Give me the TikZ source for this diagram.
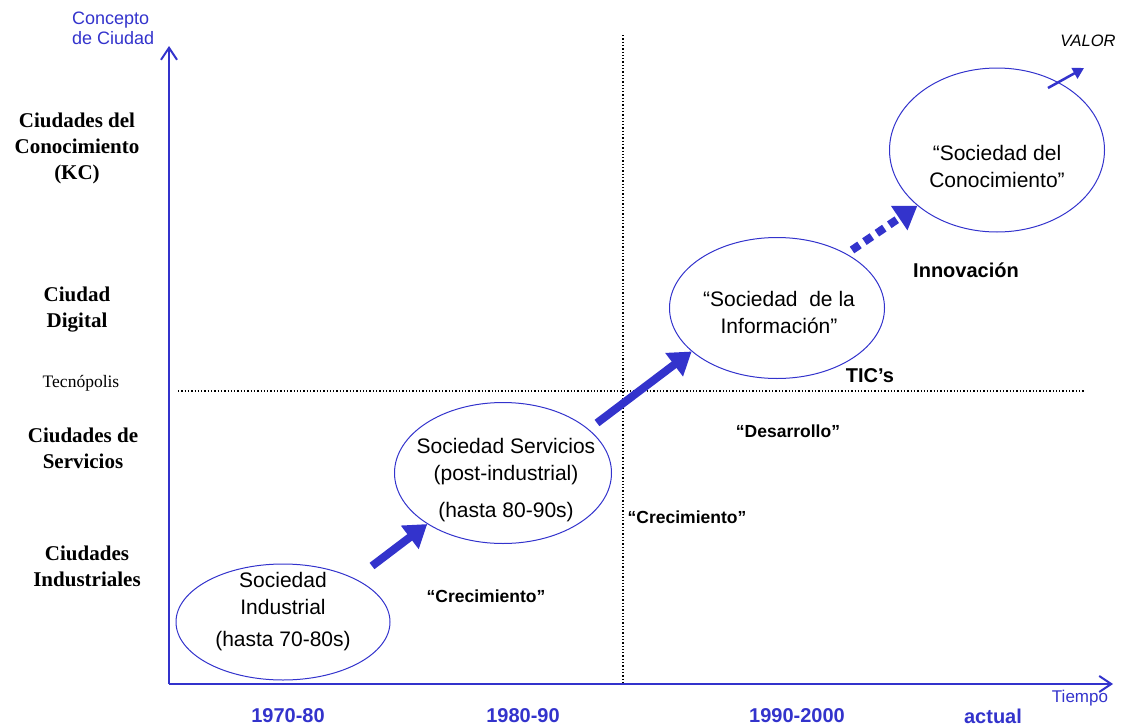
\documentclass[tikz,border=0pt]{standalone}
\usepackage{fontspec}
\setmainfont{Liberation Sans}
\newfontfamily\tnr{Liberation Serif}
\usetikzlibrary{shapes.geometric,arrows.meta}
\definecolor{ablue}{RGB}{51,51,204}
\tikzset{
  soc/.style={ellipse,draw=ablue,line width=1pt,inner sep=0pt},
  etext/.style={font=\fontsize{21}{27}\selectfont,align=center,inner sep=0pt},
  city/.style={font=\tnr\bfseries\fontsize{21}{26}\selectfont,align=center,inner sep=0pt},
  yearlbl/.style={font=\bfseries\fontsize{20}{24}\selectfont,text=ablue,inner sep=0pt},
  boldlbl/.style={font=\bfseries\fontsize{17.5}{21}\selectfont,inner sep=0pt},
  axis/.style={draw=ablue,line width=2.2pt,-{Straight Barb[length=12pt,width=16pt,line width=2pt]}},
  bigarrow/.style={draw=ablue,line width=8pt,-{Triangle[length=22pt,width=28pt]}},
  dotline/.style={draw=black,line width=1.3pt,dotted},
}
\begin{document}
\begin{tikzpicture}[x=1pt,y=-1pt]
\useasboundingbox (0,0) rectangle (1122,728);
% grid lines
\coordinate (vt) at (623,35);
\coordinate (vb) at (623,684);
\coordinate (hl) at (178,391);
\coordinate (hr) at (1085,391);
\draw[dotline] (vt) -- (vb);
\draw[dotline] (hl) -- (hr);
% axes
\coordinate (o) at (169,684);
\coordinate (ytop) at (169,46);
\coordinate (xend) at (1113,684);
\draw[axis] (o) -- (ytop);
\draw[axis] (o) -- (xend);
\node[anchor=west,align=left,text=ablue,font=\fontsize{18}{20}\selectfont,inner sep=0pt] (yl) at (72,28) {Concepto\\de Ciudad};
\node[text=ablue,font=\fontsize{17}{20}\selectfont,inner sep=0pt] (xl) at (1080,698) {Tiempo};
% ellipses
\node[soc,minimum width=214pt,minimum height=116pt] (e1) at (283,622) {};
\node[soc,minimum width=217pt,minimum height=141pt] (e2) at (503,473) {};
\node[soc,minimum width=215pt,minimum height=141pt] (e3) at (777,308) {};
\node[soc,minimum width=215pt,minimum height=164pt] (e4) at (997,150) {};
\node[etext] (t1) at (283,593) {Sociedad\\Industrial};
\node[etext] (t1b) at (283,641) {(hasta 70-80s)};
\node[etext] (t2) at (506,462) {Sociedad Servicios\\(post-industrial)};
\node[etext] (t2b) at (506,512) {(hasta 80-90s)};
\node[etext] (t3) at (779,312) {``Sociedad\ \ de la\\Informaci\'on''};
\node[etext] (t4) at (997,166) {``Sociedad del\\Conocimiento''};
% arrows
\coordinate (a1) at (372,566);
\coordinate (a2) at (597,423);
\coordinate (a3) at (852,250);
\draw[bigarrow] (a1) -- (e2.214);
\draw[bigarrow] (a2) -- (e3.207);
\draw[bigarrow,dash pattern=on 9pt off 6pt] (a3) -- (e4.215);
\coordinate (v1) at (1048,88);
\coordinate (v2) at (1084,68);
\draw[draw=ablue,line width=2.5pt,-{Triangle[length=11pt,width=12pt]}] (v1) -- (v2);
\node[font=\itshape\fontsize{16.5}{20}\selectfont,inner sep=0pt] (valor) at (1088,41) {VALOR};
% left labels
\node[city] (c1) at (77,148) {Ciudades del\\Conocimiento\\(KC)};
\node[city] (c2) at (77,310) {Ciudad\\Digital};
\node[font=\tnr\fontsize{17.5}{20}\selectfont,inner sep=0pt] (c3) at (81,383) {Tecn\'opolis};
\node[city] (c4) at (83,448) {Ciudades de\\Servicios};
\node[city] (c5) at (87,566) {Ciudades\\Industriales};
% bottom labels
\node[yearlbl] (y1) at (288,716) {1970-80};
\node[yearlbl] (y2) at (523,716) {1980-90};
\node[yearlbl] (y3) at (797,716) {1990-2000};
\node[yearlbl] (y4) at (993,716) {actual};
% other labels
\node[font=\bfseries\fontsize{20}{24}\selectfont,inner sep=0pt] (inn) at (966,270) {Innovaci\'on};
\node[font=\bfseries\fontsize{20}{24}\selectfont,inner sep=0pt] (tic) at (870,376) {TIC's};
\node[boldlbl] (des) at (788,431) {``Desarrollo''};
\node[boldlbl] (cr2) at (687,517) {``Crecimiento''};
\node[boldlbl] (cr1) at (486,596) {``Crecimiento''};
\end{tikzpicture}
\end{document}
